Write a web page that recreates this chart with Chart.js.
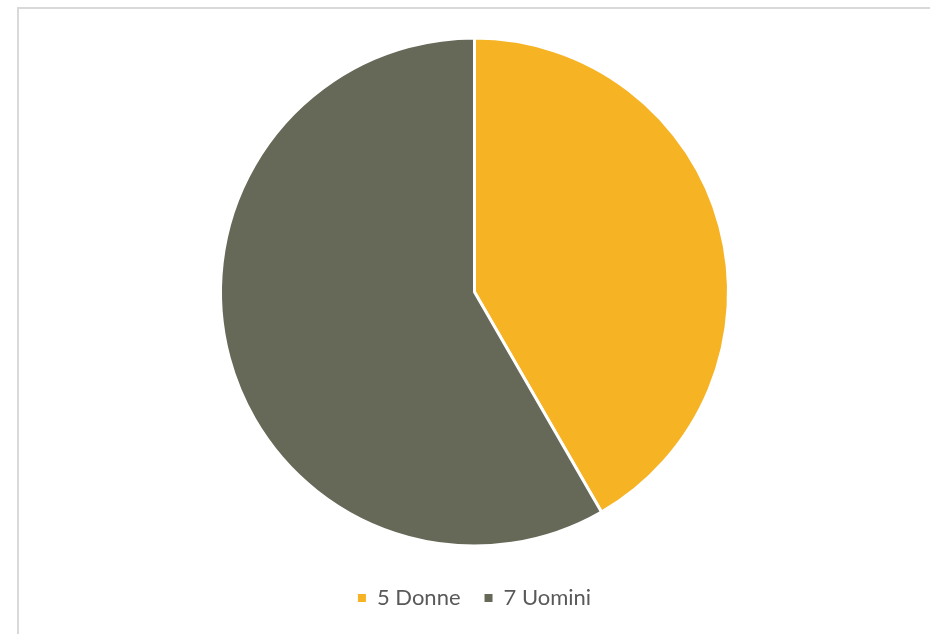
<!DOCTYPE html>
<html>
<head>
<meta charset="utf-8">
<script src="https://cdn.jsdelivr.net/npm/chart.js@4"></script>
<style>
  html, body { margin: 0; padding: 0; background: #fff; width: 930px; height: 634px; overflow: hidden; }
  #frame { position: absolute; left: 17px; top: 7px; width: 920px; height: 640px; border-left: 2px solid #d9d9d9; border-top: 2px solid #d9d9d9; }
  #wrap { position: absolute; left: 0; top: 0; width: 911px; height: 625px; }
</style>
</head>
<body>
<div id="frame"><div id="wrap"><canvas id="c"></canvas></div></div>
<script>
const categories = ["5 Donne", "7 Uomini"];
const values = [5, 7];
const colors = ["#F6B323", "#666958"];

new Chart(document.getElementById("c"), {
  type: "pie",
  data: {
    labels: categories,
    datasets: [{
      data: values,
      backgroundColor: colors,
      borderColor: "#ffffff",
      borderWidth: 3
    }]
  },
  options: {
    responsive: true,
    maintainAspectRatio: false,
    animation: false,
    layout: { padding: { top: 12, bottom: 15, left: 200, right: 200 } },
    plugins: {
      tooltip: { enabled: false },
      legend: {
        position: "bottom",
        labels: {
          boxWidth: 8,
          boxHeight: 8,
          padding: 24,
          color: "#595959",
          font: { family: "Lato, 'Open Sans', sans-serif", size: 22 },
          generateLabels: function (chart) {
            const items = Chart.controllers.pie.overrides.plugins.legend.labels.generateLabels(chart);
            return items.map(function (it) { it.lineWidth = 0; it.strokeStyle = it.fillStyle; return it; });
          }
        }
      }
    }
  }
});
</script>
</body>
</html>
